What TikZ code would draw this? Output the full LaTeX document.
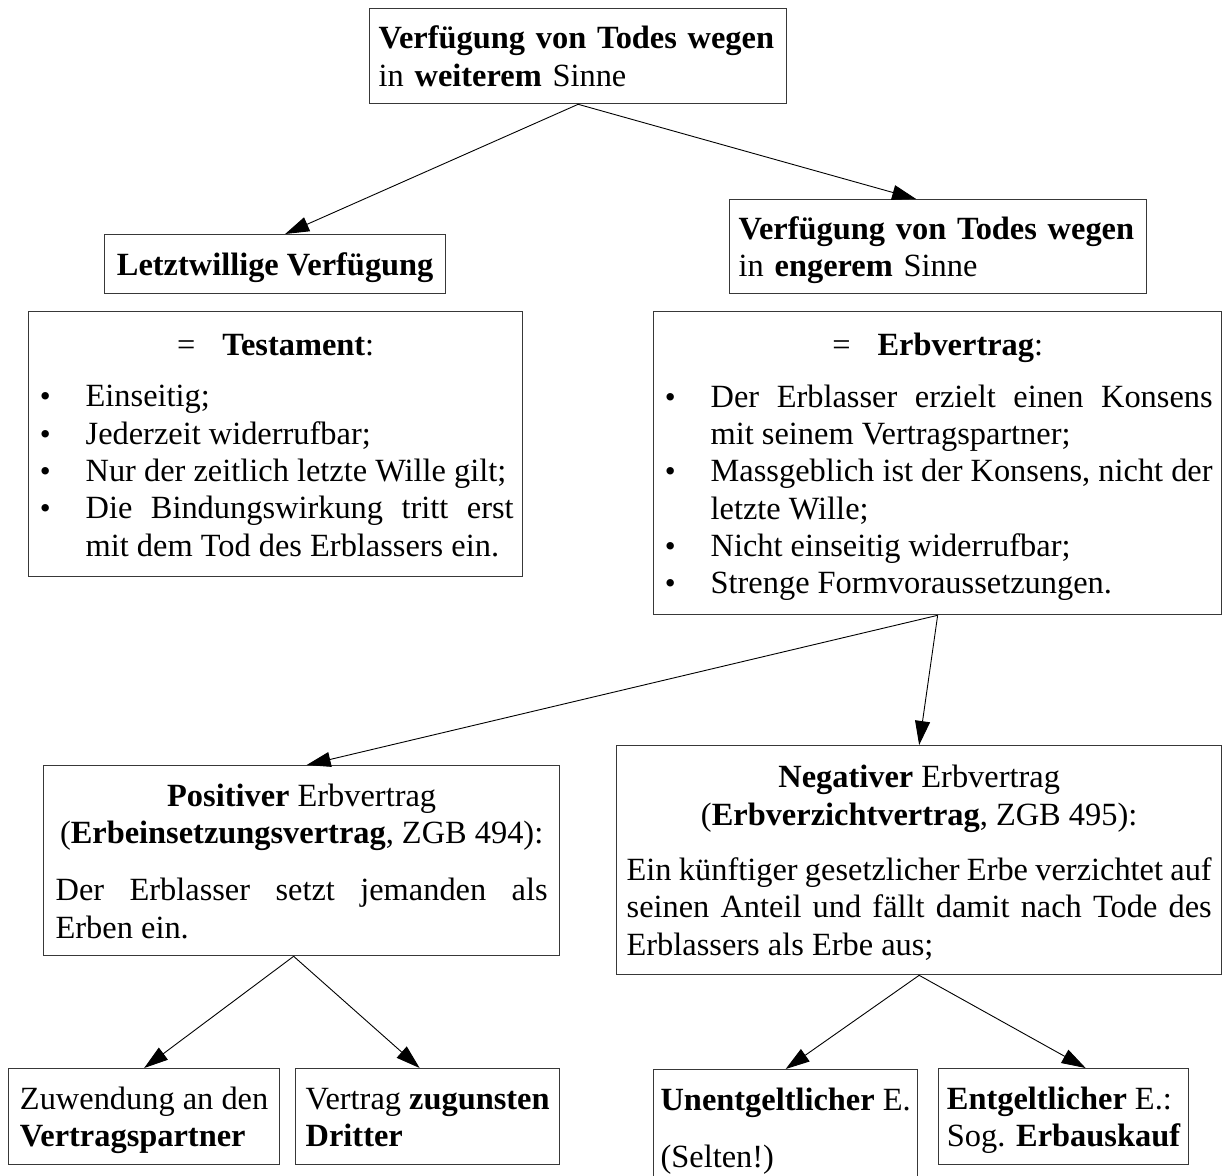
\documentclass[tikz,border=0pt]{standalone}
\usepackage{fontspec}
\setmainfont{Liberation Serif}
\usetikzlibrary{arrows.meta}
\newcommand\bodyfont{\fontsize{32.4}{37.3}\selectfont\tolerance=10000 \hyphenpenalty=10000 \exhyphenpenalty=10000 \parindent=0pt \parskip=0pt }
\newcommand\tstrut{\rule{0pt}{34pt}}
\newcommand\mybullet{{\fontsize{31}{31}\selectfont\textbullet}}
\newcommand\myitem[1]{\hangindent=48pt\hangafter=0\noindent\llap{\mybullet\hspace{35pt}}#1\par}
\tikzset{
  box/.style={draw=black!78, line width=1.3pt, rectangle, inner ysep=0pt, font=\bodyfont, text=black, anchor=north west},
  conn/.style={draw=black, line width=0.9pt, -{Triangle[length=24pt,width=15pt]}},
}
\begin{document}
\begin{tikzpicture}[x=1pt,y=-1pt]
\useasboundingbox (0,0) rectangle (1222,1175);
\clip (0,0) rectangle (1222,1175);
\fill[white] (0,0) rectangle (1222,1175);

\node[box, inner xsep=9pt, text width=399pt, minimum height=95pt, align=left] (top) at (369,8)
  {\tstrut\textbf{Verfügung von Todes wegen}\par in \textbf{weiterem} Sinne\strut};

\node[box, inner xsep=0pt, minimum width=341pt, minimum height=59pt] (letzt) at (104,234)
  {\tstrut\textbf{Letztwillige Verfügung}\strut};

\node[box, inner xsep=9pt, text width=399pt, minimum height=94pt, align=left] (enger) at (729,199)
  {\tstrut\textbf{Verfügung von Todes wegen}\par in \textbf{engerem} Sinne\strut};

\node[box, inner xsep=9pt, text width=476pt, minimum height=265pt, align=justify] (test) at (28,311)
  {{\centering\tstrut =\hspace{27pt}\textbf{Testament}:\par}\vskip14.5pt
   \myitem{Einseitig;}
   \myitem{Jederzeit widerrufbar;}
   \myitem{Nur der zeitlich letzte Wille gilt;}
   \myitem{Die Bindungswirkung tritt erst mit dem Tod des Erblassers ein.\strut}};

\node[box, inner xsep=9pt, text width=550pt, minimum height=303pt, align=justify] (erb) at (653,311)
  {{\centering\tstrut =\hspace{27pt}\textbf{Erbvertrag}:\par}\vskip14.5pt
   \myitem{Der Erblasser erzielt einen Konsens mit seinem Vertragspartner;}
   \myitem{Massgeblich ist der Konsens, nicht der letzte Wille;}
   \myitem{Nicht einseitig widerrufbar;}
   \myitem{Strenge Formvoraussetzungen.\strut}};

\node[box, inner xsep=12pt, text width=492pt, minimum height=190pt, align=justify] (pos) at (43,765)
  {{\centering\tstrut\textbf{Positiver} Erbvertrag\par (\textbf{Erbeinsetzungsvertrag}, ZGB 494):\par}\vskip20pt
   Der Erblasser setzt jemanden als Erben ein.\strut};

\node[box, inner xsep=10pt, text width=585pt, minimum height=229pt, align=justify] (neg) at (616,745)
  {{\centering\tstrut\textbf{Negativer} Erbvertrag\par (\textbf{Erbverzichtvertrag}, ZGB 495):\par}\vskip18pt
   Ein künftiger gesetzlicher Erbe verzichtet auf seinen Anteil und fällt damit nach Tode des Erblassers als Erbe aus;\strut};

\node[box, inner xsep=0pt, minimum width=271pt, minimum height=96pt, align=left] (zuw) at (8,1068)
  {\tstrut Zuwendung an den\\\textbf{Vertragspartner}\strut};

\node[box, inner xsep=0pt, minimum width=264pt, minimum height=96pt, align=left] (zug) at (295,1068)
  {\tstrut Vertrag \textbf{zugunsten}\\\textbf{Dritter}\strut};

\node[box, inner xsep=0pt, inner ysep=6.7pt, minimum width=264pt, align=left] (unent) at (653,1069)
  {\tstrut\textbf{Unentgeltlicher} E.\\[20pt](Selten!)\strut};

\node[box, inner xsep=0pt, minimum width=250pt, minimum height=96pt, align=left] (ent) at (938,1068)
  {\tstrut\textbf{Entgeltlicher} E.:\\Sog. \textbf{Erbauskauf}\strut};

\draw[conn] (top.south) -- ([xshift=10pt]letzt.north);
\draw[conn] (top.south) -- ([xshift=-22pt]enger.north);
\draw[conn] (erb.south) -- ([xshift=5pt]pos.north);
\draw[conn] (erb.south) -- (neg.north);
\draw[conn] ([xshift=-8pt]pos.south) -- (zuw.north);
\draw[conn] ([xshift=-8pt]pos.south) -- ([xshift=-8pt]zug.north);
\draw[conn] (neg.south) -- (unent.north);
\draw[conn] (neg.south) -- ([xshift=22pt]ent.north);
\end{tikzpicture}
\end{document}
